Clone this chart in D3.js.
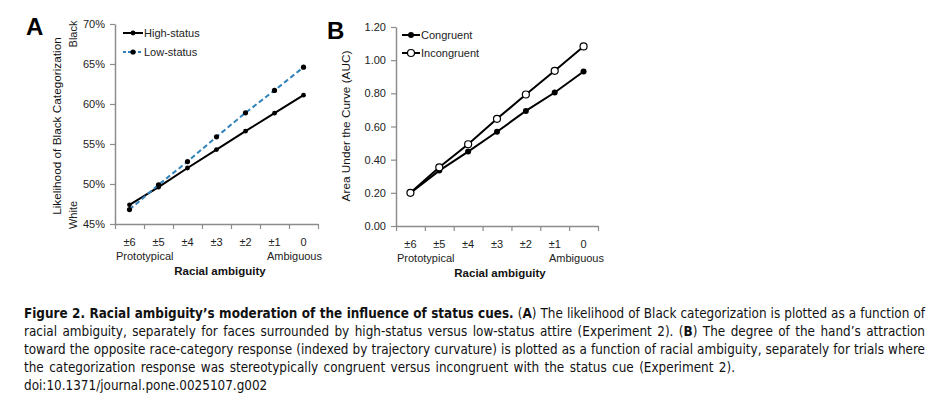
<!DOCTYPE html>
<html><head><meta charset="utf-8">
<script src="https://cdn.jsdelivr.net/npm/d3@7"></script>
<style>
body{margin:0;background:#fff;}
svg{display:block;}
text{font-family:"Liberation Sans",Arial,sans-serif;}
.cap{font-family:"DejaVu Sans Condensed","Liberation Sans Narrow","Liberation Sans",sans-serif;fill:#111;}
</style></head>
<body>
<script>
const categories = ["±6","±5","±4","±3","±2","±1","0"];
const highStatus = [47.4, 49.6, 52.0, 54.3, 56.6, 58.85, 61.1];
const lowStatus  = [46.8, 49.9, 52.8, 55.9, 58.9, 61.7, 64.6];
const congruent   = [0.20, 0.334, 0.449, 0.568, 0.694, 0.805, 0.932];
const incongruent = [0.20, 0.354, 0.493, 0.646, 0.793, 0.936, 1.083];
const ticksA = [45, 50, 55, 60, 65, 70];
const ticksB = [0, 0.2, 0.4, 0.6, 0.8, 1.0, 1.2];

const W = 937, H = 394;
const svg = d3.select("body").append("svg").attr("width", W).attr("height", H);
const axisCol = "#8c8c8c";

function panel(opt){
  const g = svg.append("g");
  const x = d3.scaleBand().domain(categories).range([opt.x0, opt.x1]);
  const xl = d3.scaleLinear().domain([0, categories.length]).range([opt.x0, opt.x1]);
  const y = d3.scaleLinear().domain(opt.yDomain).range([opt.y0, opt.y1]);
  const ya = g.append("g").attr("transform", `translate(${opt.x0},0)`)
    .call(d3.axisLeft(y).tickValues(opt.yTicks).tickSize(5).tickSizeOuter(0).tickPadding(5).tickFormat(opt.fmt));
  ya.select(".domain").attr("stroke", axisCol).attr("stroke-width", 1.5);
  ya.selectAll(".tick line").attr("stroke", axisCol).attr("stroke-width", 1.2);
  ya.selectAll("text").attr("font-size", 11).attr("fill", "#222");
  const xa = g.append("g").attr("transform", `translate(0,${opt.y0})`)
    .call(d3.axisBottom(xl).tickValues(d3.range(categories.length + 1)).tickSize(5).tickSizeOuter(0).tickFormat(""));
  xa.select(".domain").attr("stroke", axisCol).attr("stroke-width", 1.5);
  xa.selectAll(".tick line").attr("stroke", axisCol).attr("stroke-width", 1.2);
  const xb = g.append("g").attr("transform", `translate(0,${opt.y0})`)
    .call(d3.axisBottom(x).tickSize(0).tickPadding(14));
  xb.select(".domain").remove();
  xb.selectAll("text").attr("font-size", 11).attr("fill", "#222");
  g.append("text").attr("x", opt.protoX).attr("y", opt.y0 + 36).attr("font-size", 11).attr("fill", "#222").text("Prototypical");
  g.append("text").attr("x", opt.ambX).attr("y", opt.y0 + 36).attr("font-size", 11).attr("fill", "#222").attr("text-anchor", "end").text("Ambiguous");
  g.append("text").attr("x", opt.titleX).attr("y", opt.y0 + 51).attr("font-size", 11.5).attr("font-weight", "bold").attr("fill", "#111").attr("text-anchor", "middle").text("Racial ambiguity");
  g.append("text").attr("transform", `translate(${opt.yTitleX},${opt.yTitleY}) rotate(-90)`)
    .attr("font-size", 11.8).attr("fill", "#111").attr("text-anchor", "middle").text(opt.yTitle);
  g.append("text").attr("x", opt.letterX).attr("y", opt.letterY).attr("font-size", 24).attr("font-weight", "bold").attr("fill", "#000").text(opt.letter);
  opt.series.forEach(s => {
    const line = d3.line().x((d, i) => x(categories[i]) + x.bandwidth() / 2).y(d => y(d));
    g.append("path").datum(s.values).attr("d", line).attr("fill", "none")
      .attr("stroke", s.color).attr("stroke-width", 2).attr("stroke-dasharray", s.dash || null);
    g.selectAll(null).data(s.values).join("circle")
      .attr("cx", (d, i) => x(categories[i]) + x.bandwidth() / 2).attr("cy", d => y(d))
      .attr("r", s.r).attr("fill", s.fill).attr("stroke", s.mstroke || "none").attr("stroke-width", 1.2);
    g.append("line").attr("x1", opt.legX).attr("x2", opt.legX + opt.legW).attr("y1", s.ly).attr("y2", s.ly)
      .attr("stroke", s.color).attr("stroke-width", 2).attr("stroke-dasharray", s.dash ? "3,2" : null);
    g.append("circle").attr("cx", opt.legX + opt.legW / 2).attr("cy", s.ly).attr("r", s.r)
      .attr("fill", s.fill).attr("stroke", s.mstroke || "none").attr("stroke-width", 1.2);
    g.append("text").attr("x", opt.legX + opt.legW + 1).attr("y", s.ly + 4).attr("font-size", 11).attr("fill", "#222").text(s.name);
  });
}

panel({
  x0: 115, x1: 318, y0: 224, y1: 24, yDomain: [45, 70], yTicks: ticksA, fmt: d => d + "%",
  protoX: 116, ambX: 322, titleX: 220, yTitleX: 61, yTitleY: 126,
  yTitle: "Likelihood of Black Categorization", letter: "A", letterX: 26, letterY: 35,
  legX: 123, legW: 20,
  series: [
    {name: "High-status", values: highStatus, color: "#000", fill: "#000", r: 2.4, ly: 33},
    {name: "Low-status", values: lowStatus, color: "#2f82bb", dash: "5,3", fill: "#000", r: 2.6, ly: 52}
  ]
});
svg.append("text").attr("transform", "translate(77,34) rotate(-90)").attr("font-size", 11).attr("fill", "#222").attr("text-anchor", "middle").text("Black");
svg.append("text").attr("transform", "translate(77,215) rotate(-90)").attr("font-size", 11).attr("fill", "#222").attr("text-anchor", "middle").text("White");

panel({
  x0: 396, x1: 598, y0: 226, y1: 27, yDomain: [0, 1.2], yTicks: ticksB, fmt: d3.format(".2f"),
  protoX: 397, ambX: 604, titleX: 500, yTitleX: 350, yTitleY: 126,
  yTitle: "Area Under the Curve (AUC)", letter: "B", letterX: 327, letterY: 39,
  legX: 402, legW: 18,
  series: [
    {name: "Congruent", values: congruent, color: "#000", fill: "#000", r: 3, ly: 35},
    {name: "Incongruent", values: incongruent, color: "#000", fill: "#fff", mstroke: "#000", r: 3.5, ly: 53}
  ]
});

// caption
const capLines = [
  {y: 318, len: 901, justify: true, parts: [
    {t: "Figure 2. Racial ambiguity’s moderation of the influence of status cues.", b: true},
    {t: " (", b: false}, {t: "A", b: true},
    {t: ") The likelihood of Black categorization is plotted as a function of", b: false}]},
  {y: 336, len: 901, justify: true, parts: [
    {t: "racial ambiguity, separately for faces surrounded by high-status versus low-status attire (Experiment 2). (", b: false},
    {t: "B", b: true}, {t: ") The degree of the hand’s attraction", b: false}]},
  {y: 354, len: 901, justify: true, parts: [
    {t: "toward the opposite race-category response (indexed by trajectory curvature) is plotted as a function of racial ambiguity, separately for trials where", b: false}]},
  {y: 372, len: 711, justify: true, parts: [
    {t: "the categorization response was stereotypically congruent versus incongruent with the status cue (Experiment 2).", b: false}]},
  {y: 390, len: 238, justify: false, parts: [
    {t: "doi:10.1371/journal.pone.0025107.g002", b: false}]}
];
const probe = svg.append("text").attr("class", "cap").attr("font-size", 14).text(capLines[2].parts[0].t);
const natural = probe.node().getComputedTextLength();
probe.remove();
const fs = Math.max(12, Math.min(15, 14 * 896 / natural));
capLines.forEach(l => {
  const t = svg.append("text").attr("class", "cap").attr("x", 24).attr("y", l.y).attr("font-size", fs);
  l.parts.forEach(p => t.append("tspan").attr("font-weight", p.b ? "bold" : "normal").text(p.t));
  if (l.justify) {
    const w = t.node().getComputedTextLength();
    const spaces = l.parts.map(p => p.t).join("").split(" ").length - 1;
    t.attr("word-spacing", ((l.len - w) / spaces).toFixed(3));
  }
});
</script>
</body></html>
